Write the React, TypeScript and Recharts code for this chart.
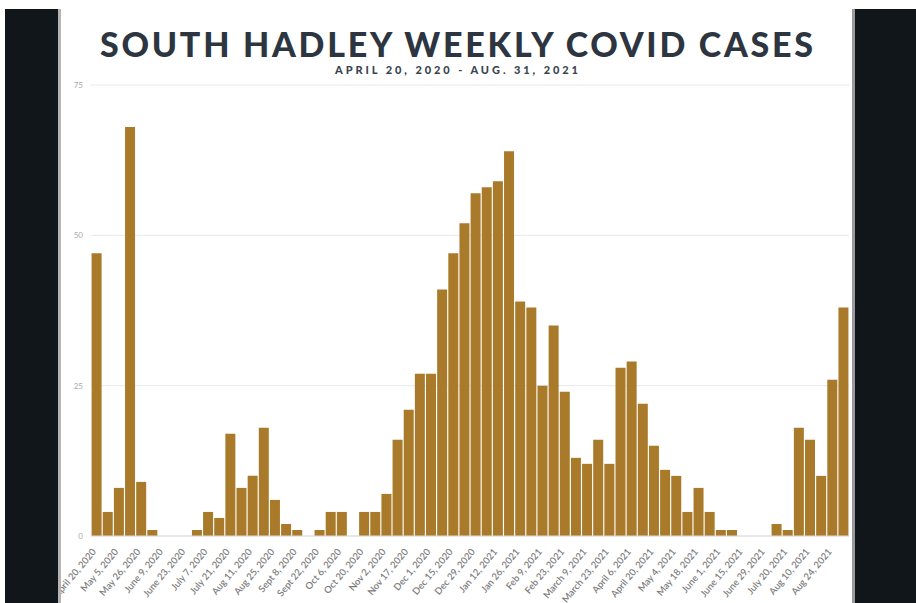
import React from 'react';
import { BarChart, Bar, XAxis, YAxis, CartesianGrid } from 'recharts';

// weekly case counts, April 20 2020 -> Aug 31 2021
const cases = [
  47, 4, 8, 68, 9, 1, 0, 0, 0, 1,
  4, 3, 17, 8, 10, 18, 6, 2, 1, 0,
  1, 4, 4, 0, 4, 4, 7, 16, 21, 27,
  27, 41, 47, 52, 57, 58, 59, 64, 39, 38,
  25, 35, 24, 13, 12, 16, 12, 28, 29, 22,
  15, 11, 10, 4, 8, 4, 1, 1, 0, 0,
  0, 2, 1, 18, 16, 10, 26, 38,
];

// one label every other week
const tickLabels = [
  'April 20, 2020', 'May 5, 2020', 'May 26, 2020', 'June 9, 2020', 'June 23, 2020',
  'July 7, 2020', 'July 21, 2020', 'Aug 11, 2020', 'Aug 25, 2020', 'Sept 8, 2020',
  'Sept 22, 2020', 'Oct 6, 2020', 'Oct 20, 2020', 'Nov 2, 2020', 'Nov 17, 2020',
  'Dec 1, 2020', 'Dec 15, 2020', 'Dec 29, 2020', 'Jan 12, 2021', 'Jan 26, 2021',
  'Feb 9, 2021', 'Feb 23, 2021', 'March 9, 2021', 'March 23, 2021', 'April 6, 2021',
  'April 20, 2021', 'May 4, 2021', 'May 18, 2021', 'June 1, 2021', 'June 15, 2021',
  'June 29, 2021', 'July 20, 2021', 'Aug 10, 2021', 'Aug 24, 2021',
];

const yTicks = [0, 25, 50, 75];

const data = cases.map((c, i) => ({ week: i, cases: c }));

const DateTick = (props: any) => {
  const { x, y, payload } = props;
  const i = Number(payload.value);
  if (i % 2 !== 0) return null;
  const ty = y + 16;
  return (
    <text
      x={x}
      y={ty}
      transform={`rotate(-50, ${x}, ${ty})`}
      textAnchor="end"
      fontSize={9.5}
      fontWeight={600}
      fill="#7d7d7d"
      fontFamily="Lato, sans-serif"
    >
      {tickLabels[i / 2]}
    </text>
  );
};

export default function App() {
  return (
    <div style={{ position: 'fixed', left: 0, top: 0, width: 916, height: 603, background: '#fff', overflow: 'hidden' }}>
      <BarChart
        width={916}
        height={603}
        data={data}
        margin={{ top: 85, right: 67, left: 40, bottom: 0 }}
        barCategoryGap={0.6}
      >
        <CartesianGrid vertical={false} stroke="#e8e8e8" />
        <XAxis
          dataKey="week"
          interval={0}
          height={67}
          tickSize={0}
          tickMargin={0}
          tickLine={false}
          axisLine={{ stroke: '#dcdcdc' }}
          tick={<DateTick />}
        />
        <YAxis
          domain={[0, 75]}
          ticks={yTicks}
          width={51}
          tickSize={0}
          tickMargin={8}
          axisLine={false}
          tickLine={false}
          tick={{ fontSize: 8, fill: '#a8a8a8', fontFamily: 'Lato, sans-serif' }}
        />
        <Bar dataKey="cases" fill="#a97a2a" isAnimationActive={false} />
      </BarChart>

      <svg width={916} height={90} style={{ position: 'absolute', left: 0, top: 0 }}>
        <text
          x={456.5}
          y={57}
          textAnchor="middle"
          textLength={713}
          lengthAdjust="spacing"
          fontSize={34}
          fontWeight={900}
          fill="#2c3540"
          fontFamily="Lato, sans-serif"
        >
          SOUTH HADLEY WEEKLY COVID CASES
        </text>
        <text
          x={456.5}
          y={74}
          textAnchor="middle"
          textLength={243}
          lengthAdjust="spacing"
          fontSize={11}
          fontWeight={900}
          fill="#3a4450"
          fontFamily="Lato, sans-serif"
        >
          APRIL 20, 2020 - AUG. 31, 2021
        </text>
      </svg>

      {/* dark frame on both sides */}
      <div style={{ position: 'absolute', left: 5, top: 9, width: 53, height: 594, background: '#11161a' }} />
      <div style={{ position: 'absolute', left: 58, top: 9, width: 3, height: 594, background: '#b4b4b4' }} />
      <div style={{ position: 'absolute', left: 852, top: 9, width: 3, height: 594, background: '#9a9a9a' }} />
      <div style={{ position: 'absolute', left: 855, top: 9, width: 61, height: 594, background: '#11161a' }} />
    </div>
  );
}
